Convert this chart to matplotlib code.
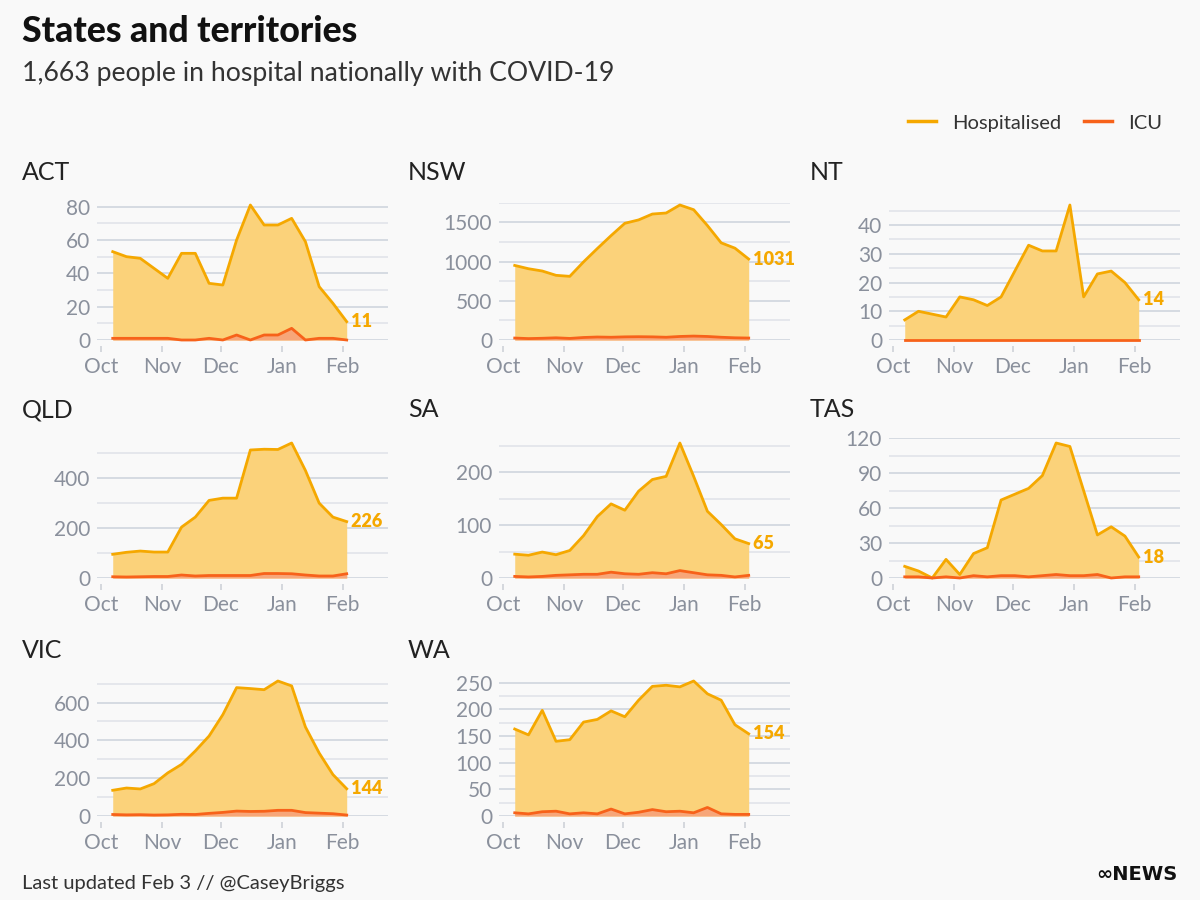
import matplotlib
matplotlib.use("Agg")
import matplotlib.pyplot as plt
from matplotlib.lines import Line2D
import pandas as pd

BG = "#f9f9f9"
HOSP_COLOR = "#f5a800"
HOSP_FILL = "#fbd27a"
ICU_COLOR = "#f7621a"
ICU_FILL = "#f7a679"
TICK_COLOR = "#8a909c"
MAJOR_GRID = "#d3d8e0"
MINOR_GRID = "#e3e6eb"

DATES = [
    "2021-10-07", "2021-10-14", "2021-10-21", "2021-10-28",
    "2021-11-04", "2021-11-11", "2021-11-18", "2021-11-25",
    "2021-12-02", "2021-12-09", "2021-12-16", "2021-12-23", "2021-12-30",
    "2022-01-06", "2022-01-13", "2022-01-20", "2022-01-27", "2022-02-03",
]

MONTHS = ["2021-10-01", "2021-11-01", "2021-12-01", "2022-01-01", "2022-02-01"]
MONTH_LABELS = ["Oct", "Nov", "Dec", "Jan", "Feb"]

STATES = ["ACT", "NSW", "NT", "QLD", "SA", "TAS", "VIC", "WA"]

HOSPITAL = {
    "ACT": [53, 50, 49, 43, 37, 52, 52, 34, 33, 60, 81, 69, 69, 73, 59, 32, 22, 11],
    "NSW": [950, 908, 879, 824, 811, 995, 1165, 1330, 1487, 1530, 1605, 1618, 1720, 1660, 1458, 1238, 1170, 1031],
    "NT": [7, 10, 9, 8, 15, 14, 12, 15, 24, 33, 31, 31, 47, 15, 23, 24, 20, 14],
    "QLD": [95, 103, 108, 104, 104, 204, 244, 311, 320, 320, 513, 516, 515, 541, 431, 300, 244, 226],
    "SA": [45, 43, 49, 44, 52, 80, 116, 140, 128, 164, 186, 192, 255, 192, 126, 101, 74, 65],
    "TAS": [10, 6, 0, 16, 3, 21, 26, 67, 72, 77, 88, 116, 113, 75, 37, 44, 36, 18],
    "VIC": [136, 148, 143, 171, 228, 273, 344, 423, 536, 679, 674, 668, 714, 688, 471, 333, 219, 144],
    "WA": [163, 152, 198, 140, 143, 176, 181, 197, 186, 217, 243, 245, 242, 253, 229, 217, 171, 154],
}

ICU = {
    "ACT": [1, 1, 1, 1, 1, 0, 0, 1, 0, 3, 0, 3, 3, 7, 0, 1, 1, 0],
    "NSW": [25, 18, 22, 28, 20, 32, 38, 35, 40, 42, 40, 35, 45, 50, 45, 35, 28, 25],
    "NT": [0, 0, 0, 0, 0, 0, 0, 0, 0, 0, 0, 0, 0, 0, 0, 0, 0, 0],
    "QLD": [5, 4, 5, 6, 6, 12, 8, 10, 10, 10, 10, 18, 18, 17, 12, 8, 8, 17],
    "SA": [3, 2, 3, 5, 6, 7, 7, 11, 8, 7, 10, 8, 14, 10, 6, 5, 2, 5],
    "TAS": [1, 1, 0, 1, 0, 2, 1, 2, 2, 1, 2, 3, 2, 2, 3, 0, 1, 1],
    "VIC": [8, 6, 7, 5, 6, 9, 8, 14, 19, 26, 24, 25, 30, 30, 18, 15, 12, 5],
    "WA": [6, 4, 8, 9, 4, 6, 4, 13, 4, 7, 12, 8, 9, 6, 16, 4, 3, 3],
}

# gridline step, labelled step, top gridline
GRID_STEP = {"ACT": 10, "NSW": 250, "NT": 5, "QLD": 100, "SA": 50, "TAS": 15, "VIC": 100, "WA": 25}
LABEL_STEP = {"ACT": 20, "NSW": 500, "NT": 10, "QLD": 200, "SA": 100, "TAS": 30, "VIC": 200, "WA": 50}
GRID_TOP = {"ACT": 80, "NSW": 1750, "NT": 45, "QLD": 500, "SA": 250, "TAS": 120, "VIC": 700, "WA": 250}

plt.rcParams["font.family"] = ["Lato", "DejaVu Sans"]

W, H = 1200, 900
COL_LEFT = [97, 499, 889]
ROW_BASE = [340, 578, 816]
PLOT_W = 291
PLOT_H = 135


def draw_panel(fig, state, idx):
    row, col = divmod(idx, 3)
    dates = pd.to_datetime(DATES)
    hosp = HOSPITAL[state]
    icu = ICU[state]

    vmax = max(hosp)
    top = max(vmax, GRID_TOP[state])
    h_px = PLOT_H * top / vmax
    left = COL_LEFT[col]
    base = ROW_BASE[row]
    ax = fig.add_axes([left / W, (H - base) / H, PLOT_W / W, h_px / H])
    ax.set_facecolor(BG)

    ax.set_xlim(pd.Timestamp("2021-09-29"), pd.Timestamp("2022-02-24"))
    ax.set_ylim(0, top)

    ax.fill_between(dates, 0, hosp, color=HOSP_FILL, linewidth=0, zorder=2)
    ax.plot(dates, hosp, color=HOSP_COLOR, linewidth=2.0, zorder=3, clip_on=False,
            solid_joinstyle="round")
    ax.fill_between(dates, 0, icu, color=ICU_FILL, linewidth=0, zorder=4)
    ax.plot(dates, icu, color=ICU_COLOR, linewidth=2.0, zorder=5, clip_on=False,
            solid_joinstyle="round")

    ax.text(dates[-1], hosp[-1], " " + str(hosp[-1]), color=HOSP_COLOR, fontsize=13,
            fontweight="heavy", ha="left", va="center", zorder=6)

    majors = list(range(0, GRID_TOP[state] + 1, LABEL_STEP[state]))
    minors = [v for v in range(0, GRID_TOP[state] + 1, GRID_STEP[state]) if v not in majors]
    ax.set_yticks(majors)
    ax.set_yticks(minors, minor=True)
    ax.grid(which="major", axis="y", color=MAJOR_GRID, linewidth=1.3, zorder=0)
    ax.grid(which="minor", axis="y", color=MINOR_GRID, linewidth=1.3, zorder=0)
    ax.set_axisbelow(True)
    ax.tick_params(axis="y", which="both", length=0, pad=5, labelsize=15,
                   labelcolor=TICK_COLOR)

    ax.set_xticks(pd.to_datetime(MONTHS))
    ax.set_xticklabels(MONTH_LABELS)
    ax.tick_params(axis="x", length=4, width=1.4, color="#d5d8dd", pad=4,
                   labelsize=15, labelcolor=TICK_COLOR)
    ax.spines["bottom"].set_position(("outward", 4.5))
    for s in ax.spines.values():
        s.set_visible(False)

    title_x = [22, 408, 810][col]
    title_y = [173, 410, 650][row]
    fig.text(title_x / W, 1 - title_y / H, state, fontsize=18, color="#222222",
             ha="left", va="center")


def main():
    fig = plt.figure(figsize=(12, 9), dpi=100)
    fig.patch.set_facecolor(BG)

    fig.text(22 / W, 1 - 32 / H, "States and territories", fontsize=25.7, fontweight="black",
             color="#111111", ha="left", va="center")
    fig.text(22 / W, 1 - 73 / H, "1,663 people in hospital nationally with COVID-19",
             fontsize=19.2, color="#333333", ha="left", va="center")

    for i, state in enumerate(STATES):
        draw_panel(fig, state, i)

    handles = [
        Line2D([], [], color=HOSP_COLOR, linewidth=2.5),
        Line2D([], [], color=ICU_COLOR, linewidth=2.5),
    ]
    fig.legend(handles, ["Hospitalised", "ICU"], loc="center right",
               bbox_to_anchor=(1180 / W, 1 - 123 / H), ncol=2, frameon=False,
               fontsize=14.5, handlelength=1.4, handletextpad=0.8, columnspacing=1.1,
               labelcolor="#333333")

    fig.text(22 / W, 1 - 883 / H, "Last updated Feb 3 // @CaseyBriggs", fontsize=14.5,
             color="#333333", ha="left", va="center")
    fig.text(1177 / W, 1 - 874 / H, "\u221eNEWS", fontsize=14, fontweight="bold",
             color="#111111", ha="right", va="center", family=["DejaVu Sans"])

    fig.savefig("out.png", dpi=100, facecolor=BG)


if __name__ == "__main__":
    main()
